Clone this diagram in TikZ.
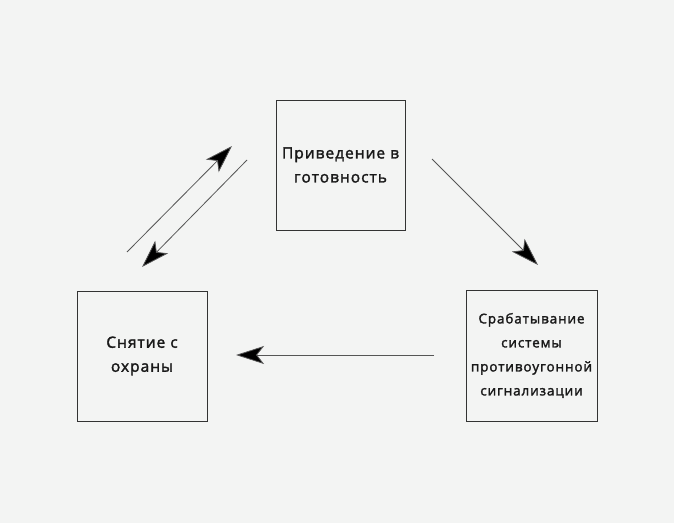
\documentclass[tikz,border=0pt]{standalone}
\usepackage{fontspec}
\setmainfont{Open Sans}
\newfontfamily\lbl[LetterSpace=6.5,FakeBold=2]{Open Sans}
\usetikzlibrary{arrows.meta}
\definecolor{bg}{HTML}{F3F4F3}
\definecolor{edge}{HTML}{333333}
\definecolor{conn}{HTML}{555555}
\begin{document}
\begin{tikzpicture}[x=1pt,y=1pt,
  stagebox/.style={draw=edge, line width=0.9pt, fill=bg, align=center, inner sep=0pt,
    font=\lbl\fontsize{15.5}{24}\selectfont, text=black!90},
  link/.style={draw=conn, line width=0.8pt, -{Stealth[length=28pt,width=18pt,inset=7pt,fill=black]}}]
\fill[bg] (0,0) rectangle (674,523);
\useasboundingbox (0,0) rectangle (674,523);
\node[stagebox, minimum width=129pt, minimum height=130pt] (ready) at (340.5,358) {Приведение в\\готовность};
\node[stagebox, minimum width=131pt, minimum height=131pt, font=\lbl\fontsize{13.5}{24}\selectfont] (alarm) at (531.5,167.5) {Срабатывание\\системы\\противоугонной\\сигнализации};
\node[stagebox, minimum width=130pt, minimum height=130pt] (disarm) at (142,167) {Снятие с\\охраны};
\coordinate (a1) at (127,271);
\coordinate (a2) at (232,377);
\coordinate (b1) at (247,363);
\coordinate (b2) at (142,256);
\coordinate (c1) at (432,364);
\coordinate (c2) at (538,258);
\coordinate (d1) at (434,168);
\coordinate (d2) at (236,168);
\draw[link] (a1) -- (a2);
\draw[link] (b1) -- (b2);
\draw[link] (c1) -- (c2);
\draw[link] (d1) -- (d2);
\end{tikzpicture}
\end{document}
